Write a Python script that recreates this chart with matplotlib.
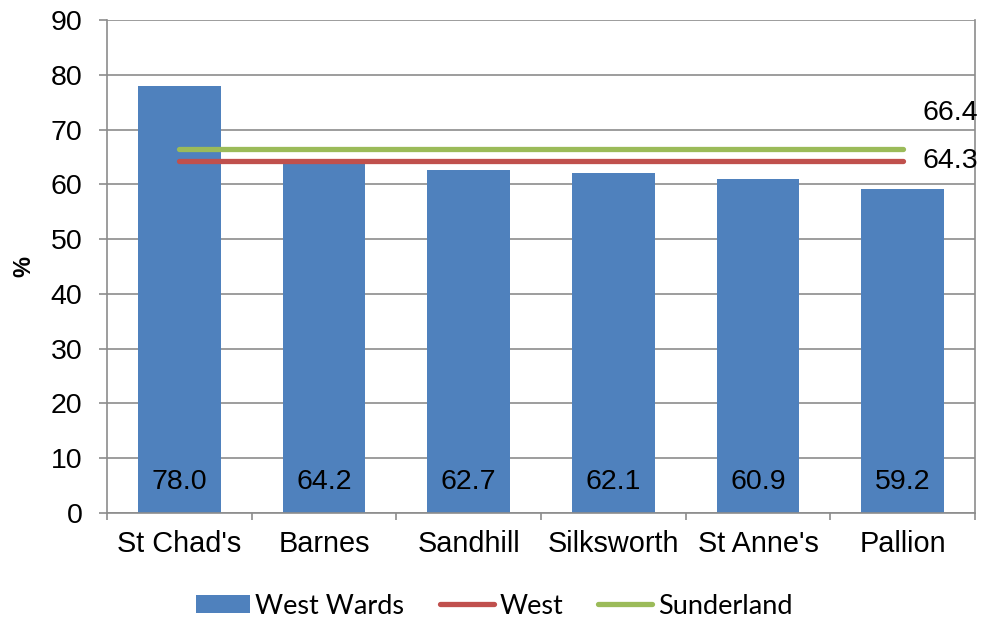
import matplotlib
matplotlib.use("Agg")
import matplotlib.pyplot as plt
from matplotlib.lines import Line2D
from matplotlib.patches import Patch

wards = ["St Chad's", "Barnes", "Sandhill", "Silksworth", "St Anne's", "Pallion"]
ward_values = [78.0, 64.2, 62.7, 62.1, 60.9, 59.2]
west_value = 64.3
sunderland_value = 66.4
y_ticks = [0, 10, 20, 30, 40, 50, 60, 70, 80, 90]

BLUE = "#4F81BD"
RED = "#C0504D"
GREEN = "#9BBB59"
GRID = "#8c8c8c"

plt.rcParams["font.family"] = ["Liberation Sans", "DejaVu Sans"]

fig = plt.figure(figsize=(9.88, 6.18), dpi=100)
ax = fig.add_axes([107 / 988, 1 - 513 / 618, 868 / 988, 493 / 618])

centers = [i + 0.5 for i in range(len(wards))]
ax.bar(centers, ward_values, width=0.57, color=BLUE, zorder=2)

for x, v in zip(centers, ward_values):
    ax.text(x, 5.7, f"{v:.1f}", ha="center", va="center", fontsize=20.5, zorder=4)

ax.plot([centers[0], centers[-1]], [west_value] * 2, color=RED, lw=3.8,
        solid_capstyle="round", zorder=3)
ax.plot([centers[0], centers[-1]], [sunderland_value] * 2, color=GREEN, lw=3.8,
        solid_capstyle="round", zorder=3)

ax.annotate(f"{west_value:.1f}", xy=(centers[-1], west_value), xytext=(20, 0),
            textcoords="offset pixels", ha="left", va="center", fontsize=20.5)
ax.annotate(f"{sunderland_value:.1f}", xy=(centers[-1], sunderland_value), xytext=(20, 36),
            textcoords="offset pixels", ha="left", va="center", fontsize=20.5)

ax.set_ylim(0, 90)
ax.set_xlim(0, len(wards))
ax.set_yticks(y_ticks)
ax.yaxis.grid(True, color=GRID, lw=1.2, zorder=0)
ax.set_axisbelow(True)

ax.set_xticks(range(len(wards) + 1))
ax.set_xticklabels([])
ax.set_xticks(centers, minor=True)
ax.set_xticklabels(wards, minor=True, fontsize=20.8)
ax.tick_params(axis="x", which="major", length=5, width=1.2, color=GRID, direction="out")
ax.tick_params(axis="x", which="minor", length=0, pad=12)
ax.tick_params(axis="y", length=5.8, width=1.2, color=GRID, labelsize=20.5, pad=12)

for side in ["left", "right", "bottom"]:
    ax.spines[side].set_color(GRID)
    ax.spines[side].set_linewidth(1.2)
ax.spines["top"].set_visible(False)

ax.set_ylabel("%", fontsize=17, fontweight="bold")
ax.yaxis.set_label_coords(-0.083, 0.5)

handles = [
    Patch(facecolor=BLUE, label="West Wards"),
    Line2D([], [], color=RED, lw=3.8, solid_capstyle="round", label="West"),
    Line2D([], [], color=GREEN, lw=3.8, solid_capstyle="round", label="Sunderland"),
]
fig.legend(handles=handles, loc="center", bbox_to_anchor=(0.5, 1 - 606 / 618), ncol=3,
           frameon=False, prop={"family": "Lato", "size": 19.5}, handlelength=2.0,
           handleheight=0.65, handletextpad=0.2, columnspacing=1.3)

fig.savefig("out.png", dpi=100)
